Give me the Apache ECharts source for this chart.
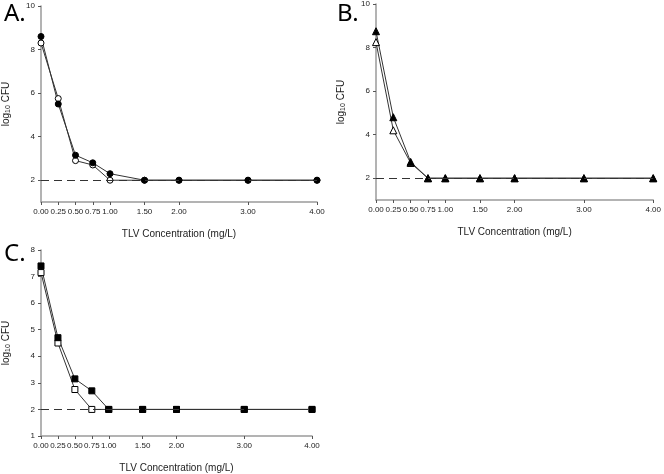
<!DOCTYPE html>
<html>
<head>
<meta charset="utf-8">
<script src="https://cdn.jsdelivr.net/npm/echarts@6/dist/echarts.min.js"></script>
<style>
  html, body { margin: 0; padding: 0; background: #fff; }
  #chart { width: 664px; height: 474px; }
</style>
</head>
<body>
<div id="chart"></div>
<script>
// concentrations (mg/L) and log10 CFU readings for the three panels
var conc = [0, 0.25, 0.5, 0.75, 1, 1.5, 2, 3, 4];
var xTicks = [0, 0.25, 0.5, 0.75, 1, 1.5, 2, 3, 4];

var aFilled = [8.6, 5.5, 3.15, 2.8, 2.3, 2, 2, 2, 2];
var aOpen = [8.3, 5.75, 2.9, 2.7, 2, 2, 2, 2, 2];
var bFilled = [8.75, 4.8, 2.75, 2, 2, 2, 2, 2, 2];
var bOpen = [8.25, 4.2, 2.7, 2, 2, 2, 2, 2, 2];
var cFilled = [7.4, 4.7, 3.15, 2.7, 2, 2, 2, 2, 2];
var cOpen = [7.15, 4.5, 2.75, 2, 2, 2, 2, 2, 2];

var yTicksAB = [2, 4, 6, 8, 10];
var yTicksC = [1, 2, 3, 4, 5, 6, 7, 8];
var limit = 2;

var myChart = echarts.init(document.getElementById('chart'));

var font = "'Liberation Sans', Arial, sans-serif";
var axisGray = '#9a9a9a';

function pairs(ys) {
    return conc.map(function (c, i) { return [c, ys[i]]; });
}

function xAxis(idx) {
    return {
        type: 'value', gridIndex: idx, min: 0, max: 4,
        name: 'TLV Concentration (mg/L)', nameLocation: 'middle', nameGap: 27,
        nameTextStyle: { fontFamily: font, fontSize: 10, color: '#222' },
        axisLine: { show: true, lineStyle: { color: axisGray, width: 1.5 } },
        axisTick: { show: true, length: 3, customValues: xTicks, lineStyle: { color: '#555' } },
        axisLabel: {
            customValues: xTicks, fontFamily: font, fontSize: 8, color: '#222', margin: 6,
            formatter: function (v) { return v.toFixed(2); }
        },
        splitLine: { show: false }
    };
}

function yAxis(idx, max, ticks, gap) {
    return {
        type: 'value', gridIndex: idx, min: 1, max: max,
        name: '{t|log}{s|10}{t| CFU}', nameLocation: 'middle', nameGap: gap, nameRotate: 90,
        nameTextStyle: {
            rich: {
                t: { fontFamily: font, fontSize: 10, color: '#222' },
                s: { fontFamily: font, fontSize: 7, color: '#222', verticalAlign: 'bottom', padding: [5, 0, 0, 0] }
            }
        },
        axisLine: { show: true, lineStyle: { color: axisGray, width: 1.5 } },
        axisTick: { show: true, length: 3, customValues: ticks, lineStyle: { color: '#555' } },
        axisLabel: { customValues: ticks, fontFamily: font, fontSize: 8, color: '#222', margin: 6 },
        splitLine: { show: false }
    };
}

function limitSeries(idx) {
    return {
        type: 'line', xAxisIndex: idx, yAxisIndex: idx, data: [], silent: true,
        markLine: {
            symbol: 'none', silent: true, label: { show: false },
            lineStyle: { color: '#333', type: [8, 5], width: 1 },
            data: [{ yAxis: limit }]
        }
    };
}

function curve(idx, ys, shape, size, filled) {
    return {
        type: 'line', xAxisIndex: idx, yAxisIndex: idx, data: pairs(ys),
        symbol: shape, symbolSize: size, showAllSymbol: true,
        lineStyle: { color: '#333', width: 1 },
        itemStyle: { color: filled ? '#000' : '#fff', borderColor: '#000', borderWidth: 1 },
        animation: false
    };
}

var options = {
    animation: false,
    title: [
        { text: 'A.', left: -1, top: -3, textStyle: { fontFamily: "'Noto Sans', sans-serif", fontSize: 24, fontWeight: 'normal', color: '#000' } },
        { text: 'B.', left: 332, top: -3, textStyle: { fontFamily: "'Noto Sans', sans-serif", fontSize: 24, fontWeight: 'normal', color: '#000' } },
        { text: 'C.', left: -1, top: 237, textStyle: { fontFamily: "'Noto Sans', sans-serif", fontSize: 24, fontWeight: 'normal', color: '#000' } }
    ],
    grid: [
        { left: 38, top: 6, width: 279, height: 196 },
        { left: 376, top: 2, width: 280, height: 198 },
        { left: 38, top: 250, width: 274, height: 191 }
    ],
    xAxis: [xAxis(0), xAxis(1), xAxis(2)],
    yAxis: [yAxis(0, 10, yTicksAB, 29), yAxis(1, 10, yTicksAB, 29), yAxis(2, 8, yTicksC, 29)],
    series: [
        limitSeries(0),
        curve(0, aOpen, 'circle', 6, false),
        curve(0, aFilled, 'circle', 6, true),
        limitSeries(1),
        curve(1, bOpen, 'triangle', 7, false),
        curve(1, bFilled, 'triangle', 7, true),
        limitSeries(2),
        curve(2, cOpen, 'rect', 6, false),
        curve(2, cFilled, 'rect', 6, true)
    ]
};

myChart.setOption(options);
</script>
</body>
</html>
